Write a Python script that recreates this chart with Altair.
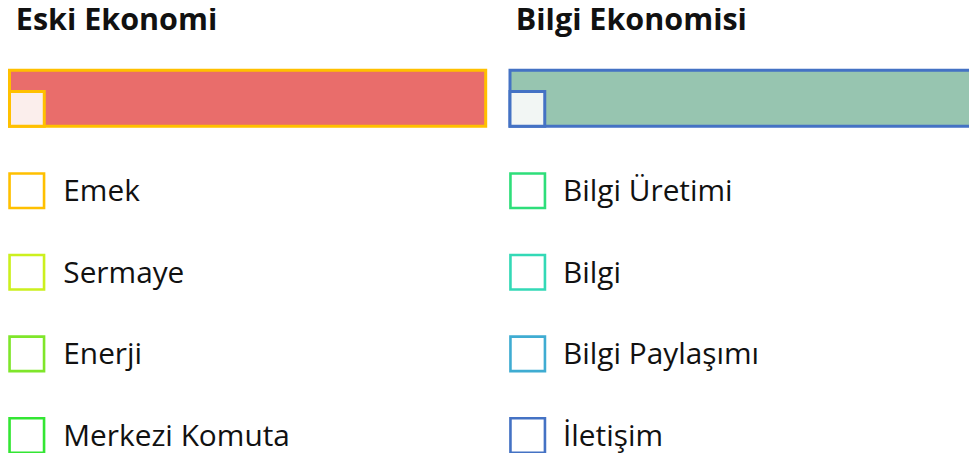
import altair as alt
import pandas as pd

panel_titles = ["Eski Ekonomi", "Bilgi Ekonomisi"]
bar_fill = ["#E96D6B", "#97C5B0"]
bar_stroke = ["#FFC000", "#4472C4"]
inner_fill = ["#FBEEEC", "#F2F6F4"]
bar_total = [100, 100]
bar_part = [7.3, 7.3]
items = [
    ["Emek", "Sermaye", "Enerji", "Merkezi Komuta"],
    ["Bilgi Üretimi", "Bilgi", "Bilgi Paylaşımı", "İletişim"],
]
item_colors = [
    ["#FFC000", "#CCF01E", "#7FE62A", "#33E633"],
    ["#2EDE7A", "#33D9B6", "#3FACD2", "#4472C4"],
]
row_index = [0, 1, 2, 3]

# layout (pixels, chart coordinates)
panel_left = [1.5, 502.0]
panel_w = 476.2
box_cx = [18.8, 519.7]
label_x = [55.3, 555.0]
title_x = [7.8, 507.8]

ys = alt.Scale(domain=[0, 3], range=[182.7, 427.5])


def panel_layers(i):
    bar_df = pd.DataFrame({"start": [0], "end": [bar_total[i]], "part": [bar_part[i]]})
    item_df = pd.DataFrame({"label": items[i], "row": row_index, "color": item_colors[i]})
    title_df = pd.DataFrame({"title": [panel_titles[i]]})
    xs = alt.Scale(domain=[0, 100], range=[panel_left[i], panel_left[i] + panel_w])
    bar = alt.Chart(bar_df).mark_rect(
        fill=bar_fill[i], stroke=bar_stroke[i], strokeWidth=3
    ).encode(
        x=alt.X("start:Q", scale=xs, axis=None),
        x2="end:Q",
        y=alt.value(62.3),
        y2=alt.value(118.3),
    )
    inner = alt.Chart(bar_df).mark_rect(
        fill=inner_fill[i], stroke=bar_stroke[i], strokeWidth=3
    ).encode(
        x=alt.X("start:Q", scale=xs, axis=None),
        x2="part:Q",
        y=alt.value(83.5),
        y2=alt.value(118.3),
    )
    boxes = alt.Chart(item_df).mark_square(
        size=1190, filled=False, strokeWidth=2.6, opacity=1
    ).encode(
        x=alt.value(box_cx[i]),
        y=alt.Y("row:Q", scale=ys, axis=None),
        stroke=alt.Stroke("color:N", scale=None, legend=None),
    )
    labels = alt.Chart(item_df).mark_text(
        align="left", baseline="alphabetic", dy=10.3,
        font="Open Sans", fontSize=29.8, color="#111111"
    ).encode(
        x=alt.value(label_x[i]),
        y=alt.Y("row:Q", scale=ys, axis=None),
        text="label:N",
    )
    title = alt.Chart(title_df).mark_text(
        align="left", baseline="alphabetic", font="Open Sans",
        fontSize=30.5, fontWeight="bold", color="#111111"
    ).encode(
        x=alt.value(title_x[i]),
        y=alt.value(22),
        text="title:N",
    )
    return [bar, inner, boxes, labels, title]


chart = alt.layer(*(panel_layers(0) + panel_layers(1))).resolve_scale(
    x="independent"
).properties(
    width=961, height=445, padding=0,
    autosize=alt.AutoSizeParams(type="none"),
).configure_view(stroke=None)

chart.save("out.html", embed_options={"renderer": "svg", "actions": False})
